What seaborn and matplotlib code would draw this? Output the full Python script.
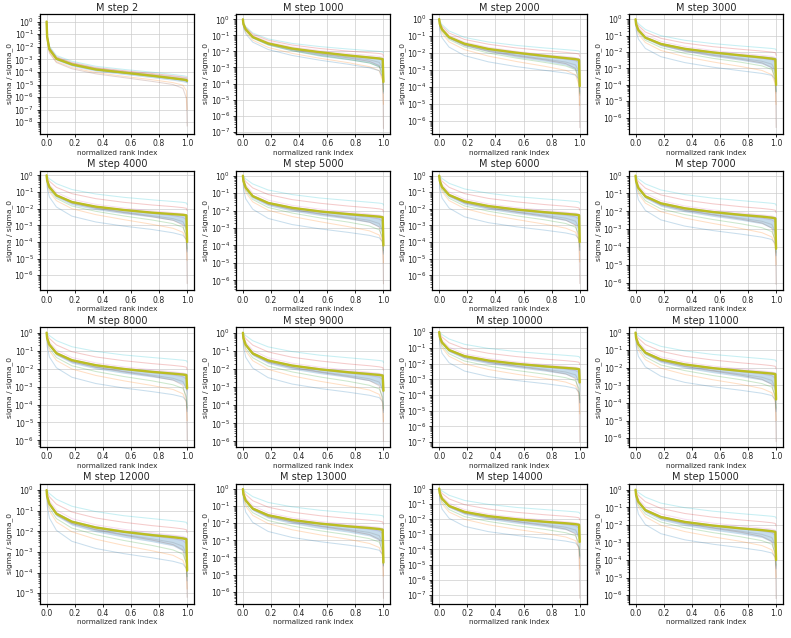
import numpy as np
import pandas as pd
import seaborn as sns
import matplotlib
matplotlib.use("Agg")
import matplotlib.pyplot as plt
from matplotlib.ticker import LogLocator, NullFormatter

rank = [0.0, 0.004, 0.02, 0.07, 0.18, 0.35, 0.55, 0.75, 0.9, 0.97, 0.995, 1.0]

steps = [2, 1000, 2000, 3000, 4000, 5000, 6000, 7000,
         8000, 9000, 10000, 11000, 12000, 13000, 14000, 15000]

# y limits (log10) per panel
ylims = [(-8.9, 0.6), (-7.12, 0.33), (-6.75, 0.3), (-6.97, 0.32),
         (-6.9, 0.28), (-6.57, 0.29), (-6.9, 0.3), (-6.43, 0.28),
         (-6.36, 0.3), (-6.3, 0.3), (-7.3, 0.3), (-6.5, 0.3),
         (-5.5, 0.3), (-6.7, 0.3), (-7.55, 0.3), (-6.48, 0.33)]

# all values below are log10(sigma / sigma_0); line order:
# cyan, red, pink, purple, gray, brown, green, orange, blue
s2_mean = [0, -1.2, -2.2, -2.95, -3.4, -3.8, -4.05, -4.3, -4.5, -4.6, -4.65, -4.7]
s2_hi = [0, -1.1, -2.08, -2.83, -3.28, -3.68, -3.93, -4.18, -4.38, -4.48, -4.53, -4.58]
s2_lo = [0, -1.3, -2.32, -3.08, -3.54, -3.94, -4.2, -4.45, -4.66, -4.78, -4.85, -4.9]
s2_lines = [
    [0, -1.0, -1.95, -2.7, -3.15, -3.55, -3.8, -4.02, -4.2, -4.3, -4.35, -4.4],
    [0, -1.1, -2.05, -2.8, -3.25, -3.65, -3.9, -4.12, -4.3, -4.4, -4.45, -4.5],
    [0, -1.15, -2.12, -2.88, -3.33, -3.73, -3.98, -4.22, -4.42, -4.52, -4.58, -4.62],
    [0, -1.2, -2.2, -2.95, -3.4, -3.8, -4.05, -4.3, -4.5, -4.6, -4.66, -4.72],
    [0, -1.12, -2.1, -2.85, -3.3, -3.7, -3.95, -4.18, -4.36, -4.46, -4.52, -4.58],
    [0, -1.45, -2.5, -3.25, -3.75, -4.15, -4.45, -4.75, -5.0, -5.3, -6.1, -8.3],
    [0, -1.25, -2.25, -3.0, -3.45, -3.85, -4.1, -4.35, -4.55, -4.66, -4.72, -4.8],
    [0, -1.4, -2.42, -3.18, -3.65, -4.05, -4.35, -4.62, -4.85, -5.05, -5.5, -7.0],
    [0, -1.22, -2.22, -2.97, -3.42, -3.82, -4.08, -4.32, -4.52, -4.62, -4.7, -4.78],
]

s1000_mean = [0, -0.3, -0.62, -1.1, -1.5, -1.82, -2.05, -2.25, -2.38, -2.44, -2.48, -3.9]
s1000_hi = [0, -0.27, -0.57, -1.03, -1.42, -1.74, -1.97, -2.16, -2.28, -2.34, -2.38, -2.45]
s1000_lo = [0, -0.34, -0.68, -1.17, -1.6, -1.96, -2.3, -2.52, -2.72, -2.98, -3.45, -3.9]
s1000_lines = [
    [0, -0.18, -0.45, -0.85, -1.22, -1.5, -1.7, -1.85, -1.95, -2.0, -2.03, -2.1],
    [0, -0.22, -0.5, -0.92, -1.3, -1.6, -1.82, -1.98, -2.08, -2.13, -2.17, -2.3],
    [0, -0.26, -0.56, -1.0, -1.4, -1.72, -1.95, -2.13, -2.25, -2.31, -2.36, -2.6],
    [0, -0.3, -0.62, -1.08, -1.48, -1.8, -2.04, -2.24, -2.38, -2.47, -2.58, -3.3],
    [0, -0.32, -0.65, -1.12, -1.53, -1.86, -2.12, -2.34, -2.52, -2.68, -3.05, -4.4],
    [0, -0.33, -0.66, -1.13, -1.55, -1.9, -2.17, -2.4, -2.62, -2.88, -3.75, -6.8],
    [0, -0.36, -0.7, -1.18, -1.6, -1.96, -2.25, -2.5, -2.72, -2.95, -3.45, -4.5],
    [0, -0.42, -0.8, -1.3, -1.75, -2.12, -2.43, -2.7, -2.95, -3.2, -3.85, -5.3],
    [0, -0.48, -0.9, -1.42, -1.88, -2.25, -2.55, -2.8, -3.02, -3.2, -3.6, -4.6],
]

s2000_mean = [0, -0.28, -0.6, -1.06, -1.45, -1.76, -1.98, -2.17, -2.3, -2.36, -2.4, -3.95]
s2000_hi = [0, -0.25, -0.55, -1.0, -1.38, -1.68, -1.9, -2.08, -2.2, -2.26, -2.3, -2.38]
s2000_lo = [0, -0.33, -0.67, -1.14, -1.57, -1.92, -2.24, -2.48, -2.7, -2.96, -3.45, -4.0]
s2000_lines = [
    [0, -0.1, -0.32, -0.7, -1.08, -1.35, -1.55, -1.7, -1.8, -1.85, -1.88, -1.95],
    [0, -0.18, -0.42, -0.82, -1.2, -1.48, -1.7, -1.86, -1.96, -2.02, -2.06, -2.2],
    [0, -0.24, -0.52, -0.95, -1.35, -1.66, -1.9, -2.08, -2.2, -2.27, -2.32, -2.55],
    [0, -0.28, -0.6, -1.05, -1.45, -1.78, -2.02, -2.22, -2.36, -2.45, -2.57, -3.3],
    [0, -0.3, -0.63, -1.1, -1.52, -1.85, -2.12, -2.35, -2.53, -2.7, -3.1, -4.5],
    [0, -0.31, -0.64, -1.12, -1.55, -1.9, -2.17, -2.4, -2.62, -2.9, -3.8, -6.4],
    [0, -0.36, -0.72, -1.2, -1.64, -2.0, -2.3, -2.55, -2.76, -2.98, -3.5, -4.4],
    [0, -0.44, -0.84, -1.34, -1.8, -2.18, -2.5, -2.78, -3.02, -3.28, -3.9, -5.1],
    [0, -0.6, -1.1, -1.65, -2.15, -2.52, -2.8, -3.02, -3.18, -3.3, -3.55, -4.3],
]

s3000_mean = [0, -0.3, -0.65, -1.12, -1.5, -1.8, -2.02, -2.2, -2.33, -2.4, -2.44, -4.0]
s3000_hi = [0, -0.26, -0.58, -1.04, -1.42, -1.71, -1.93, -2.1, -2.22, -2.28, -2.32, -2.4]
s3000_lo = [0, -0.35, -0.72, -1.2, -1.62, -1.96, -2.26, -2.5, -2.72, -2.98, -3.48, -4.0]
s3000_lines = [
    [0, -0.06, -0.26, -0.62, -1.0, -1.28, -1.48, -1.63, -1.73, -1.78, -1.81, -1.88],
    [0, -0.15, -0.38, -0.78, -1.16, -1.45, -1.67, -1.83, -1.94, -2.0, -2.04, -2.2],
    [0, -0.22, -0.5, -0.94, -1.34, -1.66, -1.9, -2.08, -2.2, -2.27, -2.33, -2.6],
    [0, -0.28, -0.62, -1.08, -1.48, -1.8, -2.04, -2.24, -2.38, -2.47, -2.6, -3.4],
    [0, -0.3, -0.66, -1.13, -1.55, -1.88, -2.15, -2.38, -2.56, -2.74, -3.15, -4.5],
    [0, -0.31, -0.67, -1.15, -1.58, -1.93, -2.2, -2.44, -2.66, -2.95, -3.85, -6.6],
    [0, -0.38, -0.78, -1.28, -1.72, -2.08, -2.38, -2.62, -2.84, -3.06, -3.55, -4.4],
    [0, -0.46, -0.9, -1.42, -1.9, -2.28, -2.6, -2.88, -3.12, -3.38, -3.95, -5.2],
    [0, -0.66, -1.2, -1.78, -2.28, -2.64, -2.92, -3.14, -3.3, -3.42, -3.65, -4.4],
]

s4000_mean = [0, -0.3, -0.7, -1.2, -1.6, -1.88, -2.08, -2.24, -2.33, -2.37, -2.4, -4.0]
s4000_hi = [0, -0.26, -0.64, -1.12, -1.52, -1.8, -2.0, -2.15, -2.25, -2.3, -2.33, -2.4]
s4000_lo = [0, -0.36, -0.8, -1.32, -1.76, -2.06, -2.3, -2.5, -2.7, -2.95, -3.45, -4.0]
s4000_lines = [
    [0, -0.03, -0.2, -0.5, -0.85, -1.12, -1.32, -1.47, -1.57, -1.62, -1.66, -1.75],
    [0, -0.12, -0.35, -0.72, -1.1, -1.4, -1.62, -1.78, -1.88, -1.94, -1.98, -2.12],
    [0, -0.22, -0.55, -1.02, -1.44, -1.74, -1.96, -2.13, -2.24, -2.3, -2.36, -2.65],
    [0, -0.28, -0.66, -1.16, -1.58, -1.88, -2.1, -2.28, -2.42, -2.52, -2.66, -3.4],
    [0, -0.31, -0.72, -1.22, -1.64, -1.95, -2.2, -2.42, -2.6, -2.78, -3.2, -4.5],
    [0, -0.32, -0.74, -1.25, -1.67, -1.98, -2.24, -2.48, -2.7, -2.98, -3.85, -6.5],
    [0, -0.4, -0.86, -1.38, -1.84, -2.16, -2.44, -2.68, -2.9, -3.12, -3.6, -4.4],
    [0, -0.48, -0.98, -1.52, -2.0, -2.36, -2.66, -2.94, -3.18, -3.42, -3.95, -5.1],
    [0, -0.7, -1.3, -1.9, -2.45, -2.8, -3.05, -3.25, -3.45, -3.6, -3.85, -4.6],
]

s5000_mean = [0, -0.3, -0.68, -1.17, -1.56, -1.84, -2.05, -2.2, -2.3, -2.35, -2.38, -4.0]
s5000_hi = [0, -0.26, -0.62, -1.09, -1.48, -1.76, -1.96, -2.11, -2.21, -2.26, -2.3, -2.36]
s5000_lo = [0, -0.36, -0.78, -1.29, -1.72, -2.03, -2.28, -2.48, -2.68, -2.94, -3.45, -4.0]
s5000_lines = [
    [0, -0.02, -0.18, -0.47, -0.82, -1.08, -1.28, -1.42, -1.52, -1.57, -1.6, -1.68],
    [0, -0.1, -0.33, -0.7, -1.08, -1.37, -1.58, -1.74, -1.84, -1.9, -1.94, -2.08],
    [0, -0.2, -0.52, -0.98, -1.4, -1.7, -1.92, -2.08, -2.2, -2.26, -2.32, -2.6],
    [0, -0.27, -0.64, -1.13, -1.55, -1.85, -2.07, -2.25, -2.38, -2.48, -2.62, -3.3],
    [0, -0.3, -0.7, -1.2, -1.62, -1.92, -2.17, -2.38, -2.56, -2.74, -3.15, -4.4],
    [0, -0.31, -0.72, -1.22, -1.64, -1.95, -2.2, -2.44, -2.66, -2.94, -3.8, -6.2],
    [0, -0.4, -0.84, -1.36, -1.82, -2.14, -2.42, -2.66, -2.88, -3.1, -3.55, -4.3],
    [0, -0.48, -0.96, -1.5, -1.98, -2.34, -2.64, -2.92, -3.16, -3.4, -3.9, -5.0],
    [0, -0.72, -1.32, -1.92, -2.45, -2.8, -3.05, -3.25, -3.42, -3.56, -3.8, -4.5],
]

s6000_mean = [0, -0.3, -0.68, -1.16, -1.55, -1.83, -2.04, -2.2, -2.3, -2.35, -2.38, -4.0]
s6000_hi = [0, -0.26, -0.62, -1.08, -1.47, -1.75, -1.95, -2.1, -2.2, -2.25, -2.29, -2.36]
s6000_lo = [0, -0.36, -0.78, -1.28, -1.72, -2.03, -2.28, -2.5, -2.7, -2.96, -3.48, -4.0]
s6000_lines = [
    [0, -0.02, -0.17, -0.46, -0.8, -1.06, -1.26, -1.4, -1.5, -1.55, -1.58, -1.66],
    [0, -0.1, -0.33, -0.7, -1.08, -1.37, -1.58, -1.74, -1.84, -1.9, -1.94, -2.08],
    [0, -0.2, -0.52, -0.98, -1.4, -1.7, -1.92, -2.08, -2.2, -2.26, -2.32, -2.6],
    [0, -0.27, -0.64, -1.13, -1.55, -1.85, -2.07, -2.25, -2.38, -2.48, -2.62, -3.3],
    [0, -0.3, -0.7, -1.2, -1.62, -1.92, -2.17, -2.38, -2.56, -2.74, -3.15, -4.5],
    [0, -0.31, -0.72, -1.22, -1.64, -1.95, -2.2, -2.44, -2.68, -2.98, -3.9, -6.5],
    [0, -0.4, -0.84, -1.36, -1.82, -2.14, -2.42, -2.66, -2.88, -3.1, -3.55, -4.3],
    [0, -0.48, -0.96, -1.5, -1.98, -2.34, -2.64, -2.92, -3.16, -3.4, -3.95, -5.2],
    [0, -0.74, -1.35, -1.95, -2.48, -2.83, -3.08, -3.28, -3.45, -3.58, -3.82, -4.5],
]

s7000_mean = [0, -0.3, -0.68, -1.16, -1.55, -1.83, -2.04, -2.2, -2.3, -2.36, -2.4, -4.1]
s7000_hi = [0, -0.26, -0.62, -1.08, -1.47, -1.75, -1.95, -2.1, -2.2, -2.26, -2.3, -2.38]
s7000_lo = [0, -0.36, -0.78, -1.28, -1.72, -2.03, -2.28, -2.5, -2.7, -2.96, -3.5, -4.1]
s7000_lines = [
    [0, -0.02, -0.17, -0.46, -0.8, -1.06, -1.26, -1.4, -1.5, -1.55, -1.58, -1.66],
    [0, -0.1, -0.33, -0.7, -1.08, -1.37, -1.58, -1.74, -1.84, -1.9, -1.94, -2.08],
    [0, -0.2, -0.52, -0.98, -1.4, -1.7, -1.92, -2.08, -2.2, -2.26, -2.32, -2.6],
    [0, -0.27, -0.64, -1.13, -1.55, -1.85, -2.07, -2.25, -2.38, -2.48, -2.62, -3.3],
    [0, -0.3, -0.7, -1.2, -1.62, -1.92, -2.17, -2.38, -2.56, -2.74, -3.15, -4.4],
    [0, -0.31, -0.72, -1.22, -1.64, -1.95, -2.2, -2.44, -2.66, -2.94, -3.8, -6.1],
    [0, -0.42, -0.88, -1.4, -1.86, -2.18, -2.46, -2.7, -2.92, -3.14, -3.6, -4.3],
    [0, -0.5, -1.0, -1.54, -2.02, -2.38, -2.68, -2.96, -3.2, -3.44, -3.95, -5.0],
    [0, -0.74, -1.35, -1.95, -2.48, -2.83, -3.08, -3.28, -3.45, -3.58, -3.82, -4.5],
]

s8000_mean = [0, -0.3, -0.66, -1.14, -1.53, -1.81, -2.02, -2.18, -2.28, -2.33, -2.36, -3.1]
s8000_hi = [0, -0.26, -0.6, -1.06, -1.45, -1.73, -1.93, -2.08, -2.18, -2.23, -2.26, -2.33]
s8000_lo = [0, -0.36, -0.76, -1.26, -1.7, -2.01, -2.26, -2.46, -2.64, -2.86, -3.25, -3.6]
s8000_lines = [
    [0, -0.02, -0.16, -0.44, -0.78, -1.04, -1.24, -1.38, -1.48, -1.53, -1.56, -1.64],
    [0, -0.1, -0.32, -0.68, -1.06, -1.35, -1.56, -1.72, -1.82, -1.88, -1.92, -2.06],
    [0, -0.2, -0.5, -0.96, -1.38, -1.68, -1.9, -2.06, -2.18, -2.24, -2.3, -2.55],
    [0, -0.27, -0.62, -1.1, -1.52, -1.82, -2.04, -2.22, -2.35, -2.45, -2.58, -3.2],
    [0, -0.3, -0.68, -1.18, -1.6, -1.9, -2.15, -2.36, -2.54, -2.72, -3.1, -4.3],
    [0, -0.31, -0.7, -1.2, -1.62, -1.93, -2.18, -2.42, -2.64, -2.92, -3.75, -6.0],
    [0, -0.42, -0.86, -1.38, -1.84, -2.16, -2.44, -2.68, -2.9, -3.1, -3.55, -4.2],
    [0, -0.5, -1.0, -1.54, -2.02, -2.38, -2.68, -2.94, -3.16, -3.4, -3.9, -4.9],
    [0, -0.74, -1.35, -1.95, -2.48, -2.83, -3.08, -3.28, -3.45, -3.58, -3.8, -4.4],
]

s9000_mean = [0, -0.3, -0.66, -1.14, -1.53, -1.81, -2.02, -2.18, -2.28, -2.33, -2.36, -3.2]
s9000_hi = [0, -0.26, -0.6, -1.06, -1.45, -1.73, -1.93, -2.08, -2.18, -2.23, -2.26, -2.33]
s9000_lo = [0, -0.36, -0.76, -1.26, -1.7, -2.01, -2.26, -2.46, -2.65, -2.88, -3.3, -3.7]
s9000_lines = [
    [0, -0.02, -0.16, -0.44, -0.78, -1.04, -1.24, -1.38, -1.48, -1.53, -1.56, -1.64],
    [0, -0.1, -0.32, -0.68, -1.06, -1.35, -1.56, -1.72, -1.82, -1.88, -1.92, -2.06],
    [0, -0.2, -0.5, -0.96, -1.38, -1.68, -1.9, -2.06, -2.18, -2.24, -2.3, -2.55],
    [0, -0.27, -0.62, -1.1, -1.52, -1.82, -2.04, -2.22, -2.35, -2.45, -2.58, -3.2],
    [0, -0.3, -0.68, -1.18, -1.6, -1.9, -2.15, -2.36, -2.54, -2.72, -3.1, -4.3],
    [0, -0.31, -0.7, -1.2, -1.62, -1.93, -2.18, -2.42, -2.64, -2.92, -3.75, -6.0],
    [0, -0.42, -0.86, -1.38, -1.84, -2.16, -2.44, -2.68, -2.9, -3.1, -3.55, -4.2],
    [0, -0.5, -1.0, -1.54, -2.02, -2.38, -2.68, -2.94, -3.16, -3.4, -3.9, -4.9],
    [0, -0.74, -1.35, -1.95, -2.48, -2.83, -3.08, -3.28, -3.45, -3.58, -3.8, -4.4],
]

s10000_mean = [0, -0.3, -0.66, -1.14, -1.53, -1.81, -2.02, -2.18, -2.28, -2.33, -2.36, -3.2]
s10000_hi = [0, -0.26, -0.6, -1.06, -1.45, -1.73, -1.93, -2.08, -2.18, -2.23, -2.26, -2.33]
s10000_lo = [0, -0.36, -0.76, -1.26, -1.7, -2.01, -2.26, -2.48, -2.68, -2.92, -3.38, -3.8]
s10000_lines = [
    [0, -0.02, -0.16, -0.44, -0.78, -1.04, -1.24, -1.38, -1.48, -1.53, -1.56, -1.64],
    [0, -0.1, -0.32, -0.68, -1.06, -1.35, -1.56, -1.72, -1.82, -1.88, -1.92, -2.06],
    [0, -0.2, -0.5, -0.96, -1.38, -1.68, -1.9, -2.06, -2.18, -2.24, -2.3, -2.55],
    [0, -0.27, -0.62, -1.1, -1.52, -1.82, -2.04, -2.22, -2.35, -2.45, -2.58, -3.2],
    [0, -0.3, -0.68, -1.18, -1.6, -1.9, -2.15, -2.36, -2.54, -2.72, -3.15, -4.5],
    [0, -0.31, -0.7, -1.2, -1.62, -1.93, -2.18, -2.42, -2.66, -2.96, -3.9, -7.0],
    [0, -0.42, -0.86, -1.38, -1.84, -2.16, -2.44, -2.68, -2.9, -3.1, -3.6, -4.3],
    [0, -0.5, -1.0, -1.54, -2.02, -2.38, -2.68, -2.94, -3.18, -3.42, -3.95, -5.2],
    [0, -0.74, -1.35, -1.95, -2.48, -2.83, -3.08, -3.28, -3.45, -3.58, -3.82, -4.5],
]

s11000_mean = [0, -0.3, -0.66, -1.14, -1.53, -1.81, -2.02, -2.18, -2.28, -2.33, -2.36, -3.8]
s11000_hi = [0, -0.26, -0.6, -1.06, -1.45, -1.73, -1.93, -2.08, -2.18, -2.23, -2.26, -2.33]
s11000_lo = [0, -0.36, -0.76, -1.26, -1.7, -2.02, -2.28, -2.5, -2.7, -2.95, -3.42, -3.9]
s11000_lines = [
    [0, -0.02, -0.16, -0.44, -0.78, -1.04, -1.24, -1.38, -1.48, -1.53, -1.56, -1.64],
    [0, -0.1, -0.32, -0.68, -1.06, -1.35, -1.56, -1.72, -1.82, -1.88, -1.92, -2.06],
    [0, -0.2, -0.5, -0.96, -1.38, -1.68, -1.9, -2.06, -2.18, -2.24, -2.3, -2.55],
    [0, -0.27, -0.62, -1.1, -1.52, -1.82, -2.04, -2.22, -2.35, -2.45, -2.6, -3.3],
    [0, -0.3, -0.68, -1.18, -1.6, -1.9, -2.15, -2.36, -2.54, -2.72, -3.15, -4.4],
    [0, -0.31, -0.7, -1.2, -1.62, -1.93, -2.18, -2.42, -2.66, -2.94, -3.8, -6.2],
    [0, -0.42, -0.86, -1.38, -1.84, -2.16, -2.44, -2.68, -2.9, -3.1, -3.6, -4.3],
    [0, -0.5, -1.0, -1.54, -2.02, -2.38, -2.68, -2.94, -3.18, -3.42, -3.95, -5.0],
    [0, -0.74, -1.35, -1.95, -2.48, -2.83, -3.08, -3.28, -3.45, -3.58, -3.82, -4.5],
]

s12000_mean = [0, -0.3, -0.66, -1.14, -1.53, -1.81, -2.02, -2.18, -2.28, -2.34, -2.38, -3.9]
s12000_hi = [0, -0.26, -0.6, -1.06, -1.45, -1.73, -1.93, -2.08, -2.18, -2.24, -2.28, -2.34]
s12000_lo = [0, -0.36, -0.76, -1.26, -1.7, -2.02, -2.28, -2.5, -2.7, -2.95, -3.42, -3.95]
s12000_lines = [
    [0, -0.02, -0.16, -0.44, -0.78, -1.04, -1.24, -1.38, -1.48, -1.53, -1.56, -1.64],
    [0, -0.1, -0.32, -0.68, -1.06, -1.35, -1.56, -1.72, -1.82, -1.88, -1.92, -2.06],
    [0, -0.2, -0.5, -0.96, -1.38, -1.68, -1.9, -2.06, -2.18, -2.24, -2.3, -2.55],
    [0, -0.27, -0.62, -1.1, -1.52, -1.82, -2.04, -2.22, -2.35, -2.45, -2.6, -3.3],
    [0, -0.3, -0.68, -1.18, -1.6, -1.9, -2.15, -2.36, -2.54, -2.72, -3.1, -4.2],
    [0, -0.31, -0.7, -1.2, -1.62, -1.93, -2.18, -2.42, -2.64, -2.9, -3.6, -5.2],
    [0, -0.42, -0.86, -1.38, -1.84, -2.16, -2.44, -2.68, -2.9, -3.1, -3.55, -4.2],
    [0, -0.5, -1.0, -1.54, -2.02, -2.38, -2.68, -2.94, -3.16, -3.4, -3.85, -4.8],
    [0, -0.74, -1.35, -1.95, -2.48, -2.83, -3.08, -3.28, -3.45, -3.58, -3.8, -4.4],
]

s13000_mean = [0, -0.3, -0.66, -1.14, -1.53, -1.81, -2.02, -2.18, -2.28, -2.34, -2.38, -4.3]
s13000_hi = [0, -0.26, -0.6, -1.06, -1.45, -1.73, -1.93, -2.08, -2.18, -2.24, -2.28, -2.34]
s13000_lo = [0, -0.36, -0.76, -1.26, -1.7, -2.02, -2.3, -2.52, -2.74, -3.0, -3.55, -4.3]
s13000_lines = [
    [0, -0.02, -0.16, -0.44, -0.78, -1.04, -1.24, -1.38, -1.48, -1.53, -1.56, -1.64],
    [0, -0.1, -0.32, -0.68, -1.06, -1.35, -1.56, -1.72, -1.82, -1.88, -1.92, -2.06],
    [0, -0.2, -0.5, -0.96, -1.38, -1.68, -1.9, -2.06, -2.18, -2.24, -2.3, -2.55],
    [0, -0.27, -0.62, -1.1, -1.52, -1.82, -2.04, -2.22, -2.35, -2.45, -2.6, -3.3],
    [0, -0.3, -0.68, -1.18, -1.6, -1.9, -2.15, -2.36, -2.54, -2.72, -3.15, -4.5],
    [0, -0.31, -0.7, -1.2, -1.62, -1.93, -2.18, -2.42, -2.66, -2.94, -3.85, -6.4],
    [0, -0.42, -0.86, -1.38, -1.84, -2.16, -2.44, -2.68, -2.9, -3.1, -3.6, -4.4],
    [0, -0.5, -1.0, -1.54, -2.02, -2.38, -2.68, -2.94, -3.18, -3.42, -3.95, -5.1],
    [0, -0.74, -1.35, -1.95, -2.48, -2.83, -3.08, -3.28, -3.45, -3.58, -3.82, -4.5],
]

s14000_mean = [0, -0.3, -0.66, -1.14, -1.53, -1.81, -2.02, -2.18, -2.28, -2.34, -2.38, -3.5]
s14000_hi = [0, -0.26, -0.6, -1.06, -1.45, -1.73, -1.93, -2.08, -2.18, -2.24, -2.28, -2.34]
s14000_lo = [0, -0.36, -0.76, -1.26, -1.7, -2.02, -2.28, -2.5, -2.7, -2.94, -3.38, -3.8]
s14000_lines = [
    [0, -0.02, -0.16, -0.44, -0.78, -1.04, -1.24, -1.38, -1.48, -1.53, -1.56, -1.64],
    [0, -0.1, -0.32, -0.68, -1.06, -1.35, -1.56, -1.72, -1.82, -1.88, -1.92, -2.06],
    [0, -0.2, -0.5, -0.96, -1.38, -1.68, -1.9, -2.06, -2.18, -2.24, -2.3, -2.55],
    [0, -0.27, -0.62, -1.1, -1.52, -1.82, -2.04, -2.22, -2.35, -2.45, -2.6, -3.3],
    [0, -0.3, -0.68, -1.18, -1.6, -1.9, -2.15, -2.36, -2.54, -2.72, -3.15, -4.6],
    [0, -0.31, -0.7, -1.2, -1.62, -1.93, -2.18, -2.42, -2.66, -2.98, -4.0, -7.2],
    [0, -0.42, -0.86, -1.38, -1.84, -2.16, -2.44, -2.68, -2.9, -3.1, -3.6, -4.4],
    [0, -0.5, -1.0, -1.54, -2.02, -2.38, -2.68, -2.94, -3.18, -3.42, -3.95, -5.3],
    [0, -0.74, -1.35, -1.95, -2.48, -2.83, -3.08, -3.28, -3.45, -3.58, -3.82, -4.5],
]

s15000_mean = [0, -0.3, -0.68, -1.16, -1.55, -1.83, -2.04, -2.2, -2.3, -2.36, -2.4, -4.0]
s15000_hi = [0, -0.26, -0.62, -1.08, -1.47, -1.75, -1.95, -2.1, -2.2, -2.26, -2.3, -2.36]
s15000_lo = [0, -0.36, -0.78, -1.28, -1.72, -2.04, -2.3, -2.52, -2.72, -2.98, -3.5, -4.05]
s15000_lines = [
    [0, -0.01, -0.15, -0.42, -0.76, -1.02, -1.22, -1.36, -1.46, -1.51, -1.54, -1.62],
    [0, -0.1, -0.32, -0.68, -1.06, -1.35, -1.56, -1.72, -1.82, -1.88, -1.92, -2.06],
    [0, -0.2, -0.5, -0.96, -1.38, -1.68, -1.9, -2.06, -2.18, -2.24, -2.3, -2.55],
    [0, -0.27, -0.62, -1.1, -1.52, -1.82, -2.04, -2.22, -2.35, -2.45, -2.6, -3.3],
    [0, -0.3, -0.68, -1.18, -1.6, -1.9, -2.15, -2.36, -2.54, -2.72, -3.15, -4.4],
    [0, -0.31, -0.7, -1.2, -1.62, -1.93, -2.18, -2.42, -2.66, -2.94, -3.8, -6.2],
    [0, -0.42, -0.86, -1.38, -1.84, -2.16, -2.44, -2.68, -2.9, -3.1, -3.6, -4.3],
    [0, -0.5, -1.0, -1.54, -2.02, -2.38, -2.68, -2.94, -3.18, -3.42, -3.95, -5.0],
    [0, -0.76, -1.38, -1.98, -2.5, -2.85, -3.1, -3.3, -3.47, -3.6, -3.84, -4.5],
]

means = [s2_mean, s1000_mean, s2000_mean, s3000_mean, s4000_mean, s5000_mean,
         s6000_mean, s7000_mean, s8000_mean, s9000_mean, s10000_mean,
         s11000_mean, s12000_mean, s13000_mean, s14000_mean, s15000_mean]
his = [s2_hi, s1000_hi, s2000_hi, s3000_hi, s4000_hi, s5000_hi, s6000_hi,
       s7000_hi, s8000_hi, s9000_hi, s10000_hi, s11000_hi, s12000_hi,
       s13000_hi, s14000_hi, s15000_hi]
los = [s2_lo, s1000_lo, s2000_lo, s3000_lo, s4000_lo, s5000_lo, s6000_lo,
       s7000_lo, s8000_lo, s9000_lo, s10000_lo, s11000_lo, s12000_lo,
       s13000_lo, s14000_lo, s15000_lo]
lines = [s2_lines, s1000_lines, s2000_lines, s3000_lines, s4000_lines,
         s5000_lines, s6000_lines, s7000_lines, s8000_lines, s9000_lines,
         s10000_lines, s11000_lines, s12000_lines, s13000_lines,
         s14000_lines, s15000_lines]

tab = sns.color_palette("tab10")
line_colors = [tab[i] for i in [9, 3, 6, 4, 7, 5, 2, 1, 0]]

sns.set_style("ticks")
plt.rcParams["font.family"] = ["DejaVu Sans"]

fig, axes = plt.subplots(4, 4, figsize=(7.91, 6.38), dpi=100)
fig.subplots_adjust(left=0.05, right=0.99, top=0.978, bottom=0.054,
                    wspace=0.27, hspace=0.31)

for k, ax in enumerate(axes.flat):
    rows = []
    for j, vals in enumerate(lines[k]):
        for x, v in zip(rank, vals):
            rows.append({"rank": x, "sigma": 10.0 ** v, "layer": j})
    df = pd.DataFrame(rows)
    sns.lineplot(data=df, x="rank", y="sigma", hue="layer", palette=line_colors,
                 estimator=None, legend=False, alpha=0.24, lw=0.75, ax=ax)
    ax.fill_between(rank, 10.0 ** np.array(los[k]), 10.0 ** np.array(his[k]),
                    color=tab[0], alpha=0.25, lw=0)
    sns.lineplot(x=rank, y=10.0 ** np.array(means[k]), color="#bcbd22", lw=1.7,
                 estimator=None, ax=ax)
    ax.set_yscale("log")
    ax.set_ylim(10 ** ylims[k][0], 10 ** ylims[k][1])
    ax.set_xlim(-0.05, 1.05)
    ax.set_xticks([0.0, 0.2, 0.4, 0.6, 0.8, 1.0])
    ax.yaxis.set_major_locator(LogLocator(base=10, numticks=20))
    ax.yaxis.set_minor_locator(LogLocator(base=10, subs=np.arange(2, 10), numticks=20))
    ax.yaxis.set_minor_formatter(NullFormatter())
    ax.grid(True, which="major", color="#cccccc", lw=0.7, alpha=0.7)
    ax.tick_params(labelsize=5.6, length=2.5, width=0.7, pad=1.5)
    ax.tick_params(which="minor", length=1.3, width=0.5)
    for s in ax.spines.values():
        s.set_color("black")
        s.set_linewidth(0.9)
    ax.set_title(f"M step {steps[k]}", fontsize=7, pad=2.5)
    ax.set_xlabel("normalized rank index", fontsize=5.2, labelpad=1)
    ax.set_ylabel("sigma / sigma_0", fontsize=5.4, labelpad=1)

fig.savefig("out.png", dpi=100)
